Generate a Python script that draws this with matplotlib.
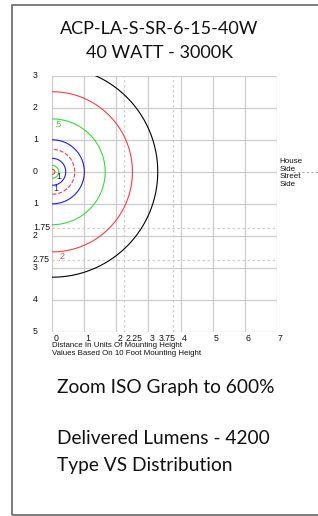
"""
ISO footcandle plot for ACP-LA-S-SR-6-15-40W, re-drawn with matplotlib.
"""

import numpy as np
import matplotlib
matplotlib.use("Agg")
import matplotlib.pyplot as plt
from matplotlib.patches import Rectangle

# contour radii (units of mounting height), drawn as half circles from the pole
iso_radii = [3.29, 2.5, 1.65, 1.0, 0.7, 0.42, 0.2, 0.08]
iso_colors = ["#000000", "#ff3a3a", "#30e030", "#1a1aff", "#ff3a3a", "#1a1aff", "#30e030", "#ff3a3a"]
iso_styles = ["-", "-", "-", "-", "--", "-", "-", "-"]

# contour labels: text, x, y, colour
iso_labels = [(".5", 0.06, 1.47, "#30e030"), ("2", 0.24, -2.64, "#ff3a3a"),
              ("1", 0.03, -0.53, "#1a1aff"), ("1", 0.14, -0.15, "#202020")]

x_ticks = [0, 1, 2, 2.25, 3, 3.75, 4, 5, 6, 7]
x_tick_labels = ["0", "1", "2", "2.25", "3", "3.75", "4", "5", "6", "7"]
# where the software put each x label (3.75 is pushed left next to 3)
x_label_pos = [0, 1, 2, 2.25, 3, 3.28, 4, 5, 6, 7]
y_ticks = [3, 2, 1, 0, -1, -1.75, -2, -2.75, -3, -4, -5]
y_tick_labels = ["3", "2", "1", "0", "1", "1.75", "2", "2.75", "3", "4", "5"]
dashed_x = [2.25, 3.75]
dashed_y = [-1.75, -2.75]

title_lines = ["ACP-LA-S-SR-6-15-40W", "40 WATT - 3000K"]
notes = ["Zoom ISO Graph to 600%", "Delivered Lumens - 4200", "Type VS Distribution"]

W, H = 318, 516
fig = plt.figure(figsize=(W / 100, H / 100), dpi=100)
fig.patch.set_facecolor("white")

# outer frame (right edge runs off the picture)
fig.patches.append(Rectangle((12 / W, 1 - 515 / H), 1.2, 510 / H, transform=fig.transFigure,
                             fill=False, edgecolor="#666666", linewidth=1.2))

ax = fig.add_axes([52.3 / W, 1 - 332 / H, 224.4 / W, 256.3 / H])
ax.set_xlim(0, 7)
ax.set_ylim(-5, 3)
ax.set_xticks([])
ax.set_yticks([])
for s in ax.spines.values():
    s.set_visible(False)

grid_c = "#cccccc"
for gx in range(0, 8):
    ax.axvline(gx, color=grid_c, lw=0.9, zorder=1)
for gy in range(-5, 4):
    ax.axhline(gy, color=grid_c, lw=0.9, zorder=1)
for gx in dashed_x:
    ax.axvline(gx, color=grid_c, lw=0.9, ls=(0, (2, 2)), zorder=1)
for gy in dashed_y:
    ax.axhline(gy, color=grid_c, lw=0.9, ls=(0, (2, 2)), zorder=1)

theta = np.linspace(-np.pi / 2, np.pi / 2, 200)
for r, c, ls in zip(iso_radii, iso_colors, iso_styles):
    ax.plot(r * np.cos(theta), r * np.sin(theta), color=c, ls=ls, lw=0.8, zorder=3)

small_fam = ["Liberation Sans Narrow", "Liberation Sans"]
for txt, lx, ly, c in iso_labels:
    ax.text(lx, ly, txt, color=c, fontsize=6.5, family=small_fam,
            ha="left", va="center", zorder=4)

tick_font = dict(fontsize=6.3, family=small_fam, color="#111111")
text_font = dict(fontsize=5.7, family=small_fam, color="#111111")
for v, lab in zip(y_ticks, y_tick_labels):
    ax.text(-0.6, v, lab, ha="left", va="center", **tick_font)
for v, lab in zip(x_label_pos, x_tick_labels):
    ax.text(v + 0.03, -5.07, lab, ha="left", va="top", **tick_font)
ax.text(0.0, -5.31, "Distance In Units Of Mounting Height", ha="left", va="top", **text_font)
ax.text(0.0, -5.56, "Values Based On 10 Foot Mounting Height", ha="left", va="top", **text_font)

# house / street side marker
for i, word in enumerate(["House", "Side", "Street", "Side"]):
    ax.text(7.08, 0.31 - i * 0.235, word, ha="left", va="center", clip_on=False,
            fontsize=5.8, family=small_fam, color="#111111")
ax.plot([7.5, 8.4], [0, 0], color="#aaaaaa", lw=0.8, ls=(0, (2, 2)), clip_on=False)

fig.text(159 / W, 1 - 29 / H, title_lines[0], ha="center", va="center",
         fontsize=13, family="Lato", color="#111111")
fig.text(159 / W, 1 - 53 / H, title_lines[1], ha="center", va="center",
         fontsize=13, family="Lato", color="#111111")
note_font = dict(fontsize=13.8, family="Lato", color="#111111")
fig.text(57 / W, 1 - 387 / H, notes[0], ha="left", va="center", **note_font)
fig.text(57 / W, 1 - 438 / H, notes[1], ha="left", va="center", **note_font)
fig.text(57 / W, 1 - 465 / H, notes[2], ha="left", va="center", **note_font)

fig.savefig("out.png", dpi=100)
